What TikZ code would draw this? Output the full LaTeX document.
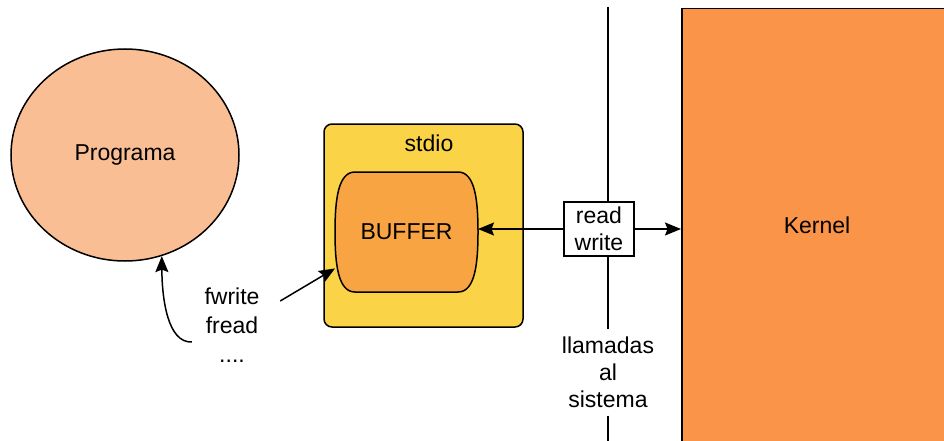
\documentclass[tikz,border=0pt]{standalone}
\usepackage{fontspec}
\setmainfont{Liberation Sans}
\usepackage{tikz}
\usetikzlibrary{shapes.geometric, arrows.meta, positioning, calc}
\definecolor{programafill}{RGB}{250,190,148}
\definecolor{stdiofill}{RGB}{250,211,71}
\definecolor{bufferfill}{RGB}{249,164,66}
\definecolor{kernelfill}{RGB}{250,148,73}

\begin{document}
\begin{tikzpicture}[x=1pt, y=-1pt, font=\fontsize{23}{28}\selectfont, line width=1.5pt]
\tikzstyle{box}=[draw, line width=1.5pt]
\tikzstyle{arr}=[-{Stealth[length=16pt,width=13pt,inset=2.5pt]}, line width=1.5pt]
\useasboundingbox (0,0) rectangle (944,441);

\node (programa) [ellipse, box, fill=programafill, minimum width=228pt, minimum height=212pt, inner sep=0pt] at (125,155) {Programa};

\node (stdio) [rectangle, box, rounded corners=8pt, fill=stdiofill, minimum width=199pt, minimum height=203pt] at (423.5,225.5) {};
\node (stdiolabel) at (429,143) {stdio};

% buffer outline with bulging sides
\draw [box, fill=bufferfill] (355,172) -- (458,172) .. controls (475,172) and (478,200) .. (478,232)
  .. controls (478,264) and (475,292) .. (458,292) -- (355,292) .. controls (338,292) and (335,264) .. (335,232)
  .. controls (335,200) and (338,172) .. (355,172) -- cycle;
\node (buffer) [rectangle, minimum width=143pt, minimum height=120pt, inner sep=0pt, outer sep=0pt] at (406.5,232) {BUFFER};

\node (kernel) [rectangle, box, fill=kernelfill, anchor=north west, minimum width=300pt, minimum height=460pt] at (681,8) {};
\node (kernellabel) at (817,225) {Kernel};

\node (rw) [box, fill=white, align=center, minimum width=70pt, minimum height=54pt, inner sep=1pt, font=\fontsize{23}{27}\selectfont] at (599,229) {read\\write};
\node (calls) [align=center, inner sep=7pt, font=\fontsize{23}{27}\selectfont] at (608,372.5) {llamadas\\al\\sistema};

\coordinate (linetop) at (608,7);
\draw (linetop) -- (linetop |- rw.north);
\draw (linetop |- rw.south) -- (linetop |- calls.north);
\draw (linetop |- calls.south) -- (608,441);

\draw [arr] (rw.west) -- (rw.west -| buffer.east);
\draw [arr] (rw.east) -- (rw.east -| kernel.west);

\node (ftext) [align=center, inner sep=3pt, font=\fontsize{23}{29}\selectfont] at (232,325) {fwrite\\fread\\....};
\draw [arr] ([xshift=17pt, yshift=24pt]ftext.east) -- (buffer.207);
\draw [arr] ([xshift=-9pt, yshift=-17pt]ftext.west) .. controls (168,343) and (162,300) .. (programa.290);

\end{tikzpicture}
\end{document}
